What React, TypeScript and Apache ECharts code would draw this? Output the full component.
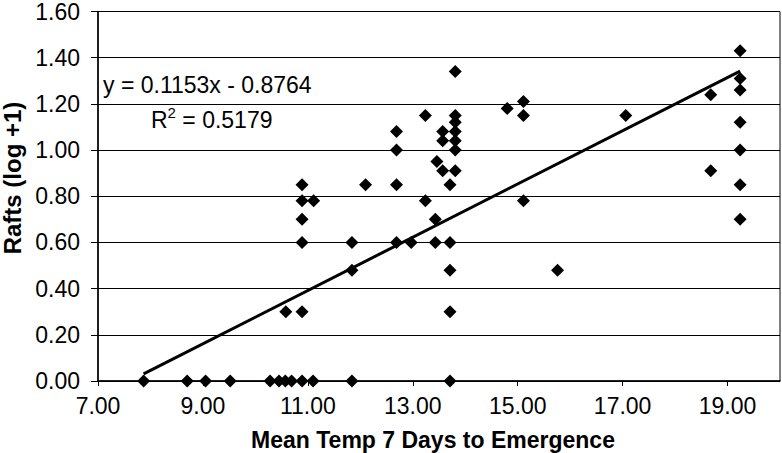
import React, { useEffect, useRef } from "react";
import * as echarts from "echarts";

const temps = [
  7.87, 8.7, 9.05, 9.52, 10.28, 10.45, 10.57, 10.69, 10.89, 11.1, 11.84, 13.71,
  10.58, 10.89, 13.71,
  11.84, 13.71, 15.76,
  10.89, 11.84, 12.69, 12.97, 13.43, 13.71,
  10.89, 13.43, 19.24,
  10.89, 11.11, 13.24, 15.11,
  10.89, 12.1, 12.69, 13.71, 19.24,
  13.57, 13.81, 18.68,
  13.46,
  12.69, 13.81, 19.24,
  13.57, 13.81,
  12.69, 13.57, 13.81,
  13.81, 19.24,
  13.24, 13.81, 15.11, 17.06,
  14.8,
  15.11,
  18.68,
  19.24,
  19.24,
  13.81,
  19.24,
];
const rafts = [
  0, 0, 0, 0, 0, 0, 0, 0, 0, 0, 0, 0,
  0.3, 0.3, 0.3,
  0.48, 0.48, 0.48,
  0.6, 0.6, 0.6, 0.6, 0.6, 0.6,
  0.7, 0.7, 0.7,
  0.78, 0.78, 0.78, 0.78,
  0.85, 0.85, 0.85, 0.85, 0.85,
  0.91, 0.91, 0.91,
  0.95,
  1.0, 1.0, 1.0,
  1.04, 1.04,
  1.08, 1.08, 1.08,
  1.12, 1.12,
  1.15, 1.15, 1.15, 1.15,
  1.18,
  1.21,
  1.24,
  1.26,
  1.31,
  1.34,
  1.43,
];
const xTicks = [7, 9, 11, 13, 15, 17, 19];
const slope = 0.1153;
const intercept = -0.8764;
const r2 = "0.5179";

const FONT = "'Liberation Sans', Arial, sans-serif";

export default function App() {
  const ref = useRef<HTMLDivElement>(null);
  useEffect(() => {
    if (!ref.current) return;
    const chart = echarts.init(ref.current, null, { renderer: "svg" });
    const points = temps.map((t, i) => [t, rafts[i]]);
    const xmin = Math.min(...temps);
    const xmax = Math.max(...temps);
    const trend = [
      [xmin, slope * xmin + intercept],
      [xmax, slope * xmax + intercept],
    ];
    chart.setOption({
      animation: false,
      backgroundColor: "#fff",
      grid: {
        left: 98,
        right: 2,
        top: 11,
        height: 370,
        show: true,
        borderColor: "#000",
        borderWidth: 1,
      },
      xAxis: {
        type: "value",
        min: 7,
        max: 20,
        axisLine: { show: true, onZero: false, lineStyle: { color: "#000", width: 1.5 } },
        axisTick: { show: true, length: 5, customValues: xTicks, lineStyle: { color: "#000" } },
        axisLabel: {
          customValues: xTicks,
          margin: 13,
          color: "#000",
          fontSize: 23,
          fontFamily: FONT,
          formatter: (v: number) => v.toFixed(2),
        },
        splitLine: { show: false },
      },
      yAxis: {
        type: "value",
        min: 0,
        max: 1.6,
        interval: 0.2,
        axisLine: { show: true, lineStyle: { color: "#000", width: 1.5 } },
        axisTick: { show: true, length: 7, lineStyle: { color: "#000" } },
        axisLabel: {
          margin: 18,
          color: "#000",
          fontSize: 23,
          fontFamily: FONT,
          formatter: (v: number) => v.toFixed(2),
        },
        splitLine: { show: true, lineStyle: { color: "#000", width: 1 } },
      },
      graphic: [
        {
          type: "text",
          x: 433,
          y: 440,
          style: {
            text: "Mean Temp 7 Days to Emergence",
            fontSize: 23,
            fontWeight: "bold",
            fontFamily: FONT,
            fill: "#000",
            textAlign: "center",
            textVerticalAlign: "middle",
          },
        },
        {
          type: "text",
          x: 12,
          y: 178,
          rotation: Math.PI / 2,
          style: {
            text: "Rafts (log +1)",
            fontSize: 24,
            fontWeight: "bold",
            fontFamily: FONT,
            fill: "#000",
            textAlign: "center",
            textVerticalAlign: "middle",
          },
        },
        {
          type: "text",
          x: 103,
          y: 85,
          style: {
            text: `y = ${slope}x - ${Math.abs(intercept)}`,
            fontSize: 23,
            fontFamily: FONT,
            fill: "#000",
            textAlign: "left",
            textVerticalAlign: "middle",
          },
        },
        {
          type: "text",
          x: 151,
          y: 118,
          style: {
            text: `{a|R}{s|2}{a| = ${r2}}`,
            fontFamily: FONT,
            fill: "#000",
            textAlign: "left",
            textVerticalAlign: "middle",
            rich: {
              a: { fontSize: 23, fontFamily: FONT, fill: "#000", lineHeight: 26, verticalAlign: "bottom" },
              s: { fontSize: 15, fontFamily: FONT, fill: "#000", lineHeight: 26, verticalAlign: "top" },
            },
          },
        },
      ],
      series: [
        {
          type: "scatter",
          data: points,
          symbol: "diamond",
          symbolSize: 13,
          itemStyle: { color: "#000", opacity: 1 },
          z: 3,
        },
        {
          type: "line",
          data: trend,
          symbol: "none",
          lineStyle: { color: "#000", width: 3 },
          z: 2,
        },
      ],
    });
    return () => chart.dispose();
  }, []);
  return (
    <div
      ref={ref}
      style={{ position: "fixed", left: 0, top: 0, width: 782, height: 453 }}
    />
  );
}
